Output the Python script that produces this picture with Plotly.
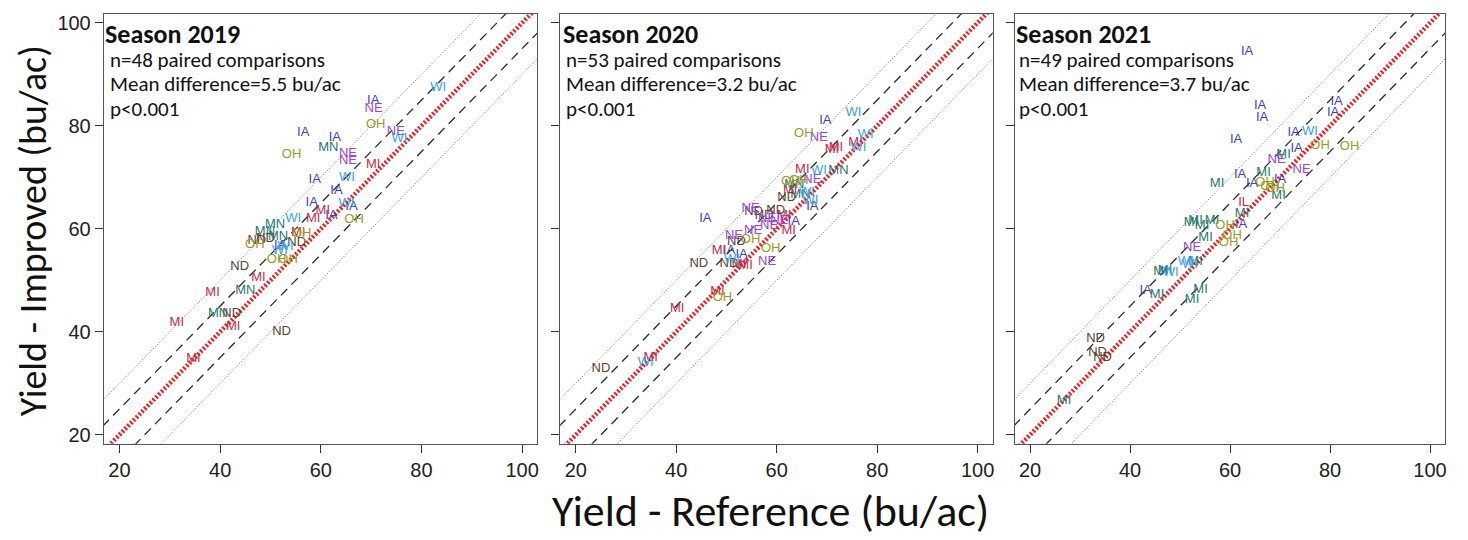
import plotly.graph_objects as go

# ---------------- data ----------------
seasons = ["2019", "2020", "2021"]
n_pairs = [48, 53, 49]
mean_diff = ["5.5", "3.2", "3.7"]
p_text = ["p<0.001", "p<0.001", "p<0.001"]

st19 = ["WI", "IA", "NE", "OH", "NE", "WI", "IA", "IA", "MN", "NE", "NE", "OH", "MI", "IA", "WI", "IA",
        "IA", "MI", "MI", "IA", "WI", "IA", "OH", "WI", "MN", "MN", "MI", "OH", "ND", "OH", "ND", "IA",
        "WI", "OH", "OH", "ND", "MI", "MN", "MI", "MN", "ND", "MI", "MI", "ND", "MI", "MN", "WI", "ND"]
ref19 = [83.3, 70.4, 70.5, 70.9, 74.9, 75.6, 56.5, 62.8, 61.5, 65.4, 65.4, 54.2, 70.4, 58.8, 65.2, 63.1,
         58.2, 60.4, 58.5, 62.1, 65.1, 66.1, 66.6, 54.5, 50.9, 48.9, 55.5, 56.2, 47.3, 46.9, 55.2, 51.9,
         51.9, 51.2, 53.5, 43.9, 47.6, 45.0, 38.5, 39.6, 42.3, 42.6, 31.4, 52.2, 34.7, 51.5, 53.0, 49.0]
imp19 = [87.3, 84.9, 83.3, 80.2, 78.8, 77.5, 78.6, 77.6, 75.7, 74.6, 73.3, 74.4, 72.5, 69.6, 69.9, 67.4,
         65.1, 63.5, 61.9, 62.6, 64.8, 64.2, 61.8, 62.0, 60.8, 59.5, 59.3, 59.0, 57.6, 57.0, 57.2, 56.8,
         55.8, 53.9, 53.9, 52.6, 50.4, 48.0, 47.5, 43.6, 43.6, 40.9, 41.8, 40.1, 34.8, 58.5, 56.5, 58.0]

st20 = ["WI", "IA", "OH", "NE", "WI", "MI", "WI", "MI", "MI", "MI", "WI", "MN", "OH", "NE", "MI", "MN",
        "WI", "IA", "ND", "ND", "NE", "NE", "IA", "IA", "MI", "NE", "NE", "ND", "OH", "OH", "MI", "IA",
        "ND", "WI", "MI", "ND", "NE", "MI", "OH", "MI", "MI", "WI", "ND", "MN", "ND", "WI", "OH", "NE",
        "MI", "NE", "IA", "ND", "MI"]
ref20 = [75.3, 69.7, 65.4, 68.4, 77.7, 75.7, 76.3, 71.0, 71.8, 65.1, 68.4, 72.3, 64.4, 67.1, 62.7, 64.7,
         66.7, 67.1, 55.4, 59.8, 54.8, 58.1, 45.8, 63.4, 62.4, 55.3, 51.5, 52.0, 54.8, 58.8, 48.5, 50.5,
         44.5, 51.1, 53.8, 50.5, 58.1, 48.2, 49.2, 40.2, 34.9, 33.9, 25.0, 63.5, 62.0, 66.0, 62.8, 60.5,
         61.5, 58.5, 53.0, 57.5, 52.5]
imp20 = [82.5, 80.9, 78.4, 77.6, 78.3, 76.7, 75.7, 75.4, 75.8, 71.5, 71.3, 71.3, 69.3, 69.6, 67.4, 66.7,
         65.5, 64.2, 63.4, 63.5, 63.8, 61.9, 61.9, 61.3, 59.7, 59.7, 58.7, 57.4, 57.9, 56.1, 55.7, 55.7,
         53.2, 53.9, 52.9, 53.3, 53.6, 47.8, 46.7, 44.4, 34.9, 34.0, 32.8, 68.5, 66.0, 67.0, 69.2, 61.5,
         62.5, 60.5, 55.0, 62.5, 53.0]

st21 = ["IA", "IA", "IA", "IA", "IA", "IA", "IA", "WI", "OH", "OH", "IA", "NE", "MI", "NE", "MI", "IA",
        "MI", "IA", "OH", "IA", "OH", "MI", "IL", "MI", "MI", "MI", "MI", "OH", "IA", "MI", "OH", "OH",
        "NE", "WI", "MI", "MI", "WI", "IA", "MI", "MI", "MI", "ND", "ND", "ND", "MI", "MI", "WI", "MI",
        "OH"]
ref21 = [63.4, 81.3, 80.6, 66.0, 66.4, 61.2, 72.7, 76.0, 78.0, 83.9, 73.3, 69.3, 70.7, 74.3, 57.4, 62.0,
         66.7, 64.4, 67.0, 70.0, 69.0, 69.7, 62.7, 62.4, 53.1, 56.4, 54.4, 59.0, 62.2, 55.1, 60.4, 59.7,
         52.4, 51.1, 53.1, 46.1, 48.1, 43.1, 45.4, 54.1, 52.4, 33.1, 33.5, 34.5, 26.8, 52.2, 52.0, 47.0,
         68.0]
imp21 = [94.4, 84.7, 82.5, 83.8, 81.6, 77.3, 78.6, 78.9, 76.2, 76.0, 75.6, 73.5, 74.3, 71.5, 68.7, 70.5,
         70.9, 68.8, 69.0, 69.6, 67.7, 66.4, 65.1, 62.9, 61.6, 61.6, 60.6, 60.6, 60.8, 58.2, 58.7, 57.2,
         56.3, 53.6, 53.6, 51.6, 51.4, 48.0, 47.1, 48.1, 46.2, 38.6, 36.0, 34.9, 26.6, 61.2, 53.0, 51.8,
         68.2]

x_ticks = [20, 40, 60, 80, 100]
y_ticks = [20, 40, 60, 80, 100]
offsets_dash = [5, -5]
offsets_dot = [10, -10]
line_x = [0, 120]

# ---------------- style ----------------
palette = ["#3b3bc4", "#c42a48", "#1d7a6c", "#5b4430", "#9a44e2", "#9a9a22", "#36a2ea"]
x_domains = [[104 / 1468, 538 / 1468], [561 / 1468, 994 / 1468], [1016 / 1468, 1447 / 1468]]
y_domain = [1 - 445 / 540, 1 - 12 / 540]
x_range = [16.9, 103.0]
y_range = [18.27, 101.73]
label_font = "Liberation Sans, Arial, sans-serif"
text_font = "Carlito, Lato, 'Open Sans', sans-serif"
tick_font = "'Liberation Sans Narrow', 'Arial Narrow', 'Liberation Sans', sans-serif"

fig = go.Figure()
data_sets = [(st19, ref19, imp19), (st20, ref20, imp20), (st21, ref21, imp21)]

for i, (st, rf, im) in enumerate(data_sets):
    xa = "x" if i == 0 else f"x{i + 1}"
    ya = "y" if i == 0 else f"y{i + 1}"
    # reference lines
    for off in offsets_dot:
        fig.add_trace(go.Scatter(x=line_x, y=[v + off for v in line_x], mode="lines", xaxis=xa, yaxis=ya,
                                 line=dict(color="#6a6a6a", width=1, dash="1px,2px"),
                                 showlegend=False, hoverinfo="skip"))
    for off in offsets_dash:
        fig.add_trace(go.Scatter(x=line_x, y=[v + off for v in line_x], mode="lines", xaxis=xa, yaxis=ya,
                                 line=dict(color="#2a2a2a", width=1.3, dash="9px,6px"),
                                 showlegend=False, hoverinfo="skip"))
    fig.add_trace(go.Scatter(x=line_x, y=line_x, mode="lines", xaxis=xa, yaxis=ya,
                             line=dict(color="#ee1c1c", width=4.5, dash="2px,2px"),
                             showlegend=False, hoverinfo="skip"))
    # state labels
    levels = sorted(set(st))
    for k, lev in enumerate(levels):
        xs = [rf[j] for j in range(len(st)) if st[j] == lev]
        ys = [im[j] for j in range(len(st)) if st[j] == lev]
        fig.add_trace(go.Scatter(x=xs, y=ys, mode="text", text=[lev] * len(xs), xaxis=xa, yaxis=ya,
                                 textposition="middle center",
                                 textfont=dict(family=label_font, size=13, color=palette[k]),
                                 showlegend=False, name=lev))

layout_axes = {}
for i in range(3):
    xkey = "xaxis" if i == 0 else f"xaxis{i + 1}"
    ykey = "yaxis" if i == 0 else f"yaxis{i + 1}"
    ya = "y" if i == 0 else f"y{i + 1}"
    xa = "x" if i == 0 else f"x{i + 1}"
    layout_axes[xkey] = dict(domain=x_domains[i], range=x_range, anchor=ya, tickvals=x_ticks,
                             ticks="outside", ticklen=8, tickcolor="#333", showgrid=False, zeroline=False,
                             showline=True, linecolor="#555", linewidth=1.2, mirror=True,
                             tickfont=dict(family=tick_font, size=20, color="#222"))
    layout_axes[ykey] = dict(domain=y_domain, range=y_range, anchor=xa, tickvals=y_ticks,
                             ticks="outside", ticklen=8, tickcolor="#333", showgrid=False, zeroline=False,
                             showline=True, linecolor="#555", linewidth=1.2, mirror=True,
                             showticklabels=(i == 0),
                             tickfont=dict(family=tick_font, size=20, color="#222"))

annotations = []
title_left = [103, 562, 1015]
body_left = [108, 565, 1018]
for i in range(3):
    annotations.append(dict(x=title_left[i] / 1468, y=1 - 32 / 540, xref="paper", yref="paper",
                            xanchor="left", yanchor="middle", showarrow=False,
                            text=f"<b>Season {seasons[i]}</b>",
                            font=dict(family=text_font, size=26, color="#111")))
    lines = [f"n={n_pairs[i]} paired comparisons", f"Mean difference={mean_diff[i]} bu/ac", p_text[i]]
    for k, t in enumerate(lines):
        annotations.append(dict(x=body_left[i] / 1468, y=1 - (58 + 25 * k) / 540, xref="paper", yref="paper",
                                xanchor="left", yanchor="middle", showarrow=False, text=t,
                                font=dict(family=text_font, size=21, color="#111")))

annotations.append(dict(x=772 / 1468, y=1 - 513 / 540, xref="paper", yref="paper", showarrow=False,
                        xanchor="center", yanchor="middle", text="Yield - Reference (bu/ac)",
                        font=dict(family=text_font, size=44, color="#111")))
annotations.append(dict(x=33 / 1468, y=1 - 230 / 540, xref="paper", yref="paper", showarrow=False,
                        xanchor="center", yanchor="middle", text="Yield - Improved (bu/ac)", textangle=-90,
                        font=dict(family=text_font, size=38, color="#111")))

fig.update_layout(width=1468, height=540, margin=dict(l=0, r=0, t=0, b=0),
                  paper_bgcolor="white", plot_bgcolor="white", showlegend=False,
                  annotations=annotations, **layout_axes)

fig.write_html("out.html", config={"displayModeBar": False},
               post_script="document.body.style.margin='0';document.body.style.overflow='hidden';")
